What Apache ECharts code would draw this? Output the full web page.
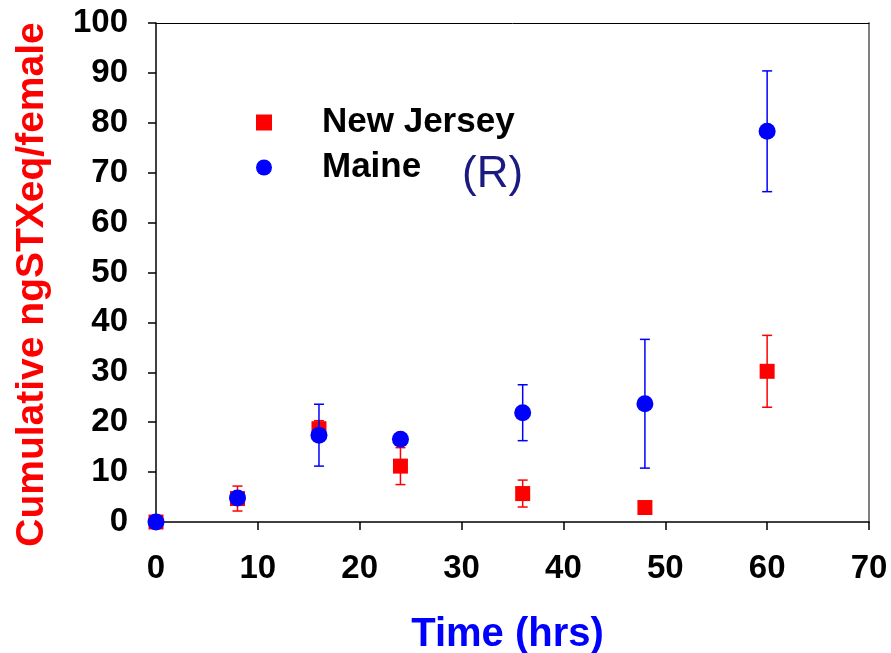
<!DOCTYPE html>
<html>
<head>
<meta charset="utf-8">
<script src="https://cdn.jsdelivr.net/npm/echarts@6/dist/echarts.min.js"></script>
<style>html,body{margin:0;padding:0;background:#fff}#c{width:891px;height:653px}</style>
</head>
<body>
<div id="c"></div>
<script>
const times = [0, 8, 16, 24, 36, 48, 60];
const njMean = [0, 4.7, 18.7, 11.2, 5.7, 2.9, 30.2];
const njErr  = [0, 2.5, 1.6, 3.7, 2.7, 0, 7.2];
const meMean = [0, 4.8, 17.4, 16.6, 21.9, 23.7, 78.3];
const meErr  = [0, 0, 6.2, 0, 5.6, 12.9, 12.1];
const xTicks = [0, 10, 20, 30, 40, 50, 60, 70];
const yTicks = [0, 10, 20, 30, 40, 50, 60, 70, 80, 90, 100];

const FONT = '"Liberation Sans", Arial, sans-serif';

function pts(m) { return times.map((t, i) => [t, m[i]]); }
function errs(m, e) { return times.map((t, i) => [t, m[i] - e[i], m[i] + e[i]]).filter((d, i) => e[i] > 0); }

function errRender(color) {
  return function (params, api) {
    const x = api.value(0);
    const lo = api.coord([x, api.value(1)]);
    const hi = api.coord([x, api.value(2)]);
    const w = 5;
    const st = { stroke: color, lineWidth: 1.5 };
    return {
      type: 'group',
      children: [
        { type: 'line', shape: { x1: lo[0], y1: lo[1], x2: hi[0], y2: hi[1] }, style: st },
        { type: 'line', shape: { x1: lo[0] - w, y1: lo[1], x2: lo[0] + w, y2: lo[1] }, style: st },
        { type: 'line', shape: { x1: hi[0] - w, y1: hi[1], x2: hi[0] + w, y2: hi[1] }, style: st }
      ]
    };
  };
}

const chart = echarts.init(document.getElementById('c'), null, { renderer: 'canvas' });
chart.setOption({
  animation: false,
  backgroundColor: '#ffffff',
  grid: { left: 156, right: 22, top: 23, bottom: 131, containLabel: false, outerBoundsMode: 'none' },
  xAxis: [{
    type: 'value', min: xTicks[0], max: xTicks[xTicks.length - 1], interval: 10,
    axisLine: { onZero: false, lineStyle: { color: '#000', width: 1.5 } },
    axisTick: { show: true, length: 8, inside: false, lineStyle: { color: '#000', width: 1.5 } },
    splitLine: { show: false },
    axisLabel: { margin: 30, color: '#000', fontSize: 33, fontWeight: 'bold', fontFamily: FONT },
    name: 'Time (hrs)', nameLocation: 'middle', nameGap: 93,
    nameTextStyle: { color: '#0000ff', fontSize: 40, fontWeight: 'bold', fontFamily: FONT, padding: [0, 10, 0, 0] }
  }, {
    type: 'value', position: 'top', min: 0, max: 70,
    axisLine: { show: true, onZero: false, lineStyle: { color: '#000', width: 1 } },
    axisTick: { show: false }, axisLabel: { show: false }, splitLine: { show: false }
  }],
  yAxis: [{
    type: 'value', min: yTicks[0], max: yTicks[yTicks.length - 1], interval: 10,
    axisLine: { show: true, onZero: false, lineStyle: { color: '#000', width: 1.5 } },
    axisTick: { show: true, length: 8, inside: false, lineStyle: { color: '#000', width: 1.5 } },
    splitLine: { show: false },
    axisLabel: { margin: 28, color: '#000', fontSize: 33, fontWeight: 'bold', fontFamily: FONT },
    name: 'Cumulative ngSTXeq/female', nameLocation: 'middle', nameGap: 104, nameRotate: 90,
    nameTextStyle: { color: '#ff0000', fontSize: 39, fontWeight: 'bold', fontFamily: FONT, padding: [0, 24, 0, 0] }
  }, {
    type: 'value', position: 'right', min: 0, max: 100,
    axisLine: { show: true, onZero: false, lineStyle: { color: '#808080', width: 2 } },
    axisTick: { show: false }, axisLabel: { show: false }, splitLine: { show: false }
  }],
  legend: {
    orient: 'vertical', left: 251, top: 98, itemWidth: 16, itemHeight: 16, itemGap: 6,
    data: [{ name: 'New Jersey', icon: 'rect', itemStyle: { opacity: 1 } }, { name: 'Maine', icon: 'circle', itemStyle: { opacity: 1 } }],
    textStyle: { color: '#000', fontSize: 35, fontWeight: 'bold', fontFamily: FONT, padding: [4, 0, 0, 45], lineHeight: 35 }
  },
  graphic: [{
    type: 'text', left: 462, top: 153,
    style: { text: '(R)', fill: '#1a1a80', font: '44px "Liberation Sans", Arial, sans-serif' }
  }],
  series: [
    { name: 'njErr', type: 'custom', renderItem: errRender('#ff0000'), data: errs(njMean, njErr), z: 2, silent: true },
    { name: 'New Jersey', type: 'scatter', symbol: 'rect', symbolSize: 15, itemStyle: { color: '#ff0000', opacity: 1 }, data: pts(njMean), z: 3 },
    { name: 'meErr', type: 'custom', renderItem: errRender('#0000ff'), data: errs(meMean, meErr), z: 4, silent: true },
    { name: 'Maine', type: 'scatter', symbol: 'circle', symbolSize: 17, itemStyle: { color: '#0000ff', opacity: 1 }, data: pts(meMean), z: 5 }
  ]
});
</script>
</body>
</html>
